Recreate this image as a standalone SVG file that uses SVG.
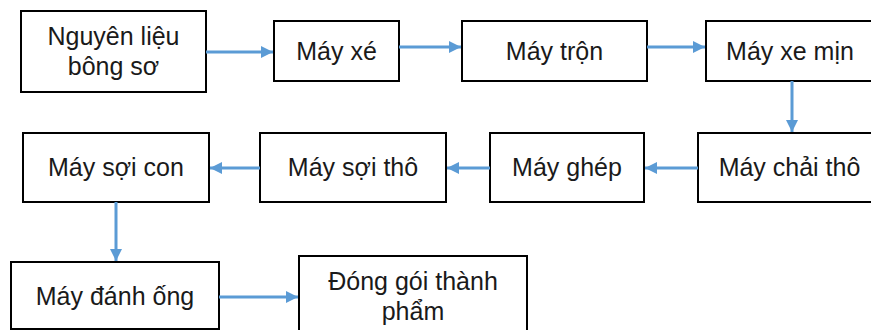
<svg xmlns="http://www.w3.org/2000/svg" width="871" height="330" viewBox="0 0 871 330">
  <defs>
    <marker id="arrow" viewBox="0 0 10 10" refX="10" refY="5" markerWidth="4.3" markerHeight="4" markerUnits="strokeWidth" orient="auto">
      <path d="M0,0 L10,5 L0,10 Z" fill="#5B9BD5"/>
    </marker>
  </defs>
  <style>
    .box { fill: #ffffff; stroke: #000000; stroke-width: 2; }
    .label { font-family: "Liberation Sans", Arial, sans-serif; font-size: 25px; fill: #1a1a1a; text-anchor: middle; }
    .link { stroke: #5B9BD5; stroke-width: 3; fill: none; marker-end: url(#arrow); }
  </style>
  <rect width="871" height="330" fill="#ffffff"/>

  <!-- process steps -->
  <g id="nguyen-lieu">
    <rect class="box" x="21" y="11" width="185" height="81"/>
    <text class="label" x="113.5" y="45">Nguyên liệu</text>
    <text class="label" x="113.5" y="75">bông sơ</text>
  </g>
  <g id="may-xe">
    <rect class="box" x="274" y="21" width="125" height="60"/>
    <text class="label" x="336.5" y="60">Máy xé</text>
  </g>
  <g id="may-tron">
    <rect class="box" x="462" y="21" width="185" height="60"/>
    <text class="label" x="554.5" y="60">Máy trộn</text>
  </g>
  <g id="may-xe-min">
    <rect class="box" x="706" y="21" width="170" height="60"/>
    <text class="label" x="790" y="60">Máy xe mịn</text>
  </g>
  <g id="may-chai-tho">
    <rect class="box" x="698" y="133" width="180" height="69"/>
    <text class="label" x="789.5" y="176">Máy chải thô</text>
  </g>
  <g id="may-ghep">
    <rect class="box" x="490" y="133" width="154" height="69"/>
    <text class="label" x="567" y="176">Máy ghép</text>
  </g>
  <g id="may-soi-tho">
    <rect class="box" x="260" y="133" width="186" height="69"/>
    <text class="label" x="353" y="176">Máy sợi thô</text>
  </g>
  <g id="may-soi-con">
    <rect class="box" x="23" y="133" width="186" height="69"/>
    <text class="label" x="116" y="176">Máy sợi con</text>
  </g>
  <g id="may-danh-ong">
    <rect class="box" x="11" y="262" width="208" height="67"/>
    <text class="label" x="115" y="305">Máy đánh ống</text>
  </g>
  <g id="dong-goi">
    <rect class="box" x="299" y="256" width="228" height="76"/>
    <text class="label" x="413" y="290">Đóng gói thành</text>
    <text class="label" x="413" y="320">phẩm</text>
  </g>

  <!-- flow connectors -->
  <g id="connectors">
    <line class="link" x1="206" y1="52" x2="273" y2="52"/>
    <line class="link" x1="399" y1="47" x2="461" y2="47"/>
    <line class="link" x1="647" y1="47" x2="705" y2="47"/>
    <line class="link" x1="792" y1="81" x2="792" y2="132"/>
    <line class="link" x1="698" y1="168" x2="645" y2="168"/>
    <line class="link" x1="490" y1="168" x2="447" y2="168"/>
    <line class="link" x1="260" y1="168" x2="210" y2="168"/>
    <line class="link" x1="116" y1="202" x2="116" y2="261"/>
    <line class="link" x1="219" y1="297" x2="298" y2="297"/>
  </g>
</svg>
